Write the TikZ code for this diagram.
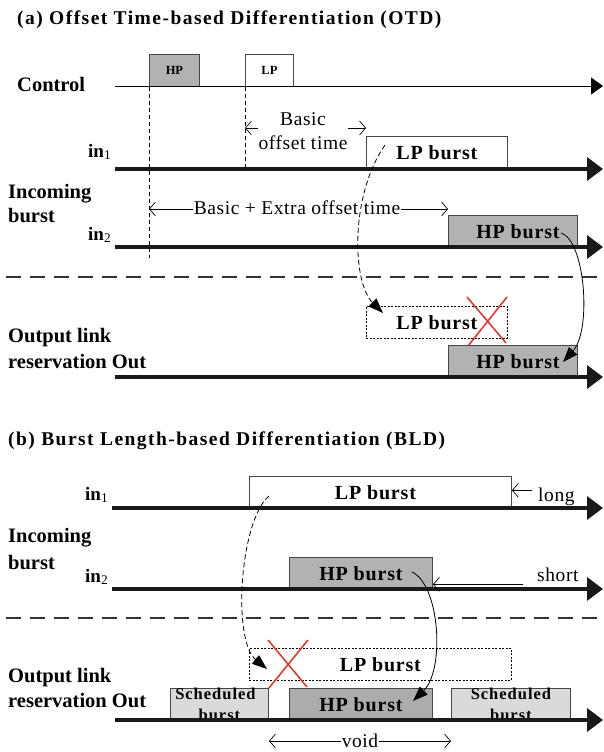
\documentclass[tikz,border=0pt]{standalone}
\usepackage{fontspec}
\setmainfont{Liberation Serif}
\usetikzlibrary{arrows.meta}
\definecolor{hpgray}{RGB}{178,178,178}
\definecolor{hpgrayb}{RGB}{172,172,174}
\definecolor{schgray}{RGB}{218,218,220}
\definecolor{bordergray}{RGB}{70,70,70}
\definecolor{xred}{RGB}{235,45,40}
\newcommand\myin[1]{in\textsubscript{\mdseries #1}}
\begin{document}
\begin{tikzpicture}[x=1pt,y=-1pt,
  box/.style={draw=bordergray, line width=0.9pt, inner sep=0pt, anchor=north west, font=\bfseries\fontsize{20}{22}\selectfont\addfontfeatures{LetterSpace=4}},
  dbox/.style={box, draw=black, line width=0.8pt, dash pattern=on 2pt off 1.5pt},
  ctlbox/.style={box, font=\bfseries\fontsize{12.5}{14}\selectfont},
  schbox/.style={box, fill=schgray, align=center, font=\bfseries\fontsize{16.5}{21}\selectfont\addfontfeatures{LetterSpace=6}},
  axisthick/.style={line width=3.6pt, draw=black!90, -{Triangle[length=16pt,width=23pt]}},
  axisthin/.style={line width=1pt, -{Triangle[length=12pt,width=17pt]}},
  dim/.style={line width=0.7pt, {Straight Barb[length=6pt,width=14pt]}-{Straight Barb[length=6pt,width=14pt]}},
  onearrow/.style={line width=0.7pt, -{Straight Barb[length=6pt,width=14pt]}},
  vdash/.style={line width=0.8pt, dash pattern=on 4pt off 3pt},
  sepline/.style={line width=1.6pt, draw=black!80, dash pattern=on 15pt off 9pt},
  curvedash/.style={line width=0.8pt, dash pattern=on 5pt off 3pt, -{Triangle[length=15pt,width=11pt]}},
  curvesolid/.style={line width=0.8pt, -{Triangle[length=15pt,width=11pt]}},
  cross/.style={draw=xred, line width=1.5pt},
  lab/.style={anchor=base west, inner sep=0pt, font=\bfseries\fontsize{20.5}{22}\selectfont},
  ttl/.style={anchor=base west, inner sep=0pt, font=\bfseries\fontsize{19.5}{20}\selectfont\addfontfeatures{LetterSpace=7.5}},
  inlab/.style={anchor=base west, inner sep=0pt, font=\bfseries\fontsize{19}{20}\selectfont},
  plain/.style={font=\fontsize{19.5}{24}\selectfont\addfontfeatures{LetterSpace=3}, fill=white, inner sep=2pt, align=center},
  side/.style={font=\fontsize{19.5}{23}\selectfont\addfontfeatures{LetterSpace=3}, inner sep=0pt, anchor=base west},
]
\useasboundingbox (0,0) rectangle (603,752);

% ================= (a) =================
\node[ttl] (ta) at (17,25) {(a) Offset Time-based Differentiation (OTD)};
\node[lab] (ctl) at (17,92) {Control};
\node[inlab] (ina1) at (88,157) {\myin{1}};
\node[lab] (inca) at (8,198) {Incoming};
\node[lab] (bura) at (8,222) {burst};
\node[inlab] (ina2) at (88,240) {\myin{2}};
\node[lab] (outa1) at (8,342) {Output link};
\node[lab] (outa2) at (8,368) {reservation Out};

% control boxes
\node[ctlbox, fill=hpgray, minimum width=50pt, minimum height=32pt] (hpc) at (149,54) {HP};
\node[ctlbox, fill=white, minimum width=48pt, minimum height=32pt] (lpc) at (245,54) {LP};

% bursts
\node[box, fill=white, minimum width=141pt, minimum height=33pt] (lpa) at (366,136) {LP burst};
\node[box, fill=hpgray, minimum width=129pt, minimum height=32pt] (hpa) at (448,215) {\hspace*{10pt}HP burst};
\node[dbox, minimum width=141pt, minimum height=32pt] (lpao) at (366,306) {LP burst};
\node[box, fill=hpgray, minimum width=129pt, minimum height=32pt] (hpao) at (448,345) {\hspace*{10pt}HP burst};

% dashed verticals
\draw[vdash] (hpc.south west) -- (149,258);
\draw[vdash] (lpc.south west) -- (245,169);

% axes
\coordinate (ca0) at (115,86);   \coordinate (ca1) at (603,86);
\coordinate (a10) at (115,169);  \coordinate (a11) at (603,169);
\coordinate (a20) at (115,247);  \coordinate (a21) at (603,247);
\coordinate (ao0) at (115,377);  \coordinate (ao1) at (603,377);
\draw[axisthin] (ca0) -- (ca1);
\draw[axisthick] (a10) -- (a11);
\draw[axisthick] (a20) -- (a21);
\draw[axisthick] (ao0) -- (ao1);

% offset arrows
\coordinate (bo0) at (245,128); \coordinate (bo1) at (366,128);
\draw[dim] (bo0) -- (bo1);
\node[plain, inner sep=1pt] (bot) at (303,131) {Basic\\offset time};
\coordinate (be0) at (149,209); \coordinate (be1) at (448,209);
\draw[dim] (be0) -- (be1);
\node[plain, inner sep=1pt] (bet) at (297,208) {Basic + Extra offset time};

% separator
\coordinate (sa0) at (6,277); \coordinate (sa1) at (603,277);
\draw[sepline] (sa0) -- (sa1);

% red cross
\draw[cross] (467,297) -- (506,343);
\draw[cross] (507,297) -- (468,346);

% curves
\coordinate (cda0) at (385,145); \coordinate (cda1) at (383,313);
\draw[curvedash] (cda0) .. controls (350,195) and (352,282) .. (cda1);
\coordinate (csa0) at (561,233); \coordinate (csa1) at (563,362);
\draw[curvesolid] (csa0) .. controls (585,240) and (592,330) .. (csa1);

% ================= (b) =================
\node[ttl] (tb) at (8,445) {(b) Burst Length-based Differentiation (BLD)};
\node[inlab] (inb1) at (85,500) {\myin{1}};
\node[lab] (incb) at (8,542) {Incoming};
\node[lab] (burb) at (8,569) {burst};
\node[inlab] (inb2) at (85,582) {\myin{2}};
\node[lab] (outb1) at (8,682) {Output link};
\node[lab] (outb2) at (8,707) {reservation Out};

\node[box, fill=white, minimum width=262pt, minimum height=32pt] (lpb) at (249,476) {\hspace*{-10pt}LP burst};
\node[box, fill=hpgray, minimum width=143pt, minimum height=32pt] (hpb) at (289,557) {HP burst};
\node[dbox, minimum width=262pt, minimum height=32pt] (lpbo) at (249,648) {LP burst};
\node[schbox, minimum width=98pt, minimum height=32pt] (sch1) at (170,688) {\hspace*{-8pt}Scheduled\\burst};
\node[box, fill=hpgrayb, minimum width=143pt, minimum height=32pt] (hpbo) at (289,688) {HP burst};
\node[schbox, minimum width=119pt, minimum height=32pt] (sch2) at (451,688) {Scheduled\\burst};

% axes (b)
\coordinate (b10) at (112,508);  \coordinate (b11) at (603,508);
\coordinate (b20) at (112,589);  \coordinate (b21) at (603,589);
\coordinate (bo0b) at (115,720); \coordinate (bo1b) at (603,720);
\draw[axisthick] (b10) -- (b11);
\draw[axisthick] (b20) -- (b21);
\draw[axisthick] (bo0b) -- (bo1b);

% long / short
\node[side] (lng) at (538,501) {long};
\draw[onearrow] (lng.west) ++(-6,-6) coordinate (lngs) -- (lpb.east |- lngs);
\node[side] (sht) at (537,581) {short};
\draw[onearrow] ([xshift=-14pt,yshift=-10pt]sht.west) coordinate (shts) -- (hpb.east |- shts);

% separator (b)
\coordinate (sb0) at (6,618); \coordinate (sb1) at (603,618);
\draw[sepline] (sb0) -- (sb1);

% red cross (b)
\draw[cross] (269,688) -- (308,640);
\draw[cross] (268,640) -- (307,687);

% curves (b)
\coordinate (cdb0) at (269,496); \coordinate (cdb1) at (267,669);
\draw[curvedash] (cdb0) .. controls (240,520) and (232,640) .. (cdb1);
\coordinate (csb0) at (412,572); \coordinate (csb1) at (413,701);
\draw[curvesolid] (csb0) .. controls (440,585) and (445,670) .. (csb1);

% void
\coordinate (v0) at (269,741); \coordinate (v1) at (451,741);
\draw[dim] (v0) -- (v1);
\node[plain, inner sep=1pt] (vd) at (360,741) {void};
\end{tikzpicture}
\end{document}
